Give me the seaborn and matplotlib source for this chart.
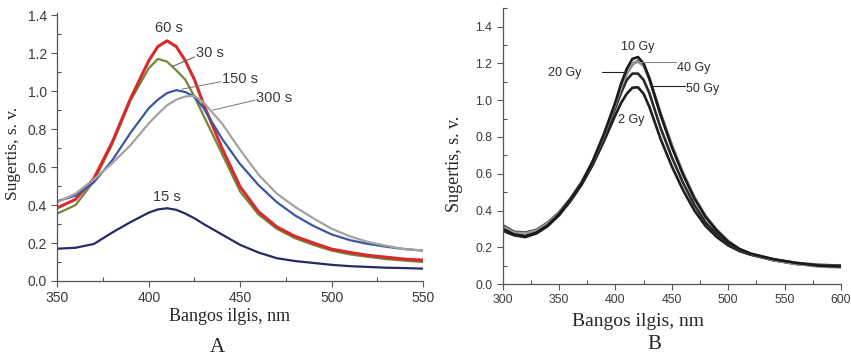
import numpy as np
import pandas as pd
import seaborn as sns
import matplotlib.pyplot as plt
from matplotlib.ticker import MultipleLocator

# %% Datos.

# Panel A: sugertis pagal bangos ilgi, skirtingas apšvitos laikas
bangos_a = [350, 360, 370, 380, 390, 400, 405, 410, 415, 420, 425, 430,
            440, 450, 460, 470, 480, 490, 500, 510, 520, 530, 540, 550]
s15 = [0.17, 0.175, 0.195, 0.255, 0.31, 0.36, 0.377, 0.383, 0.375, 0.355, 0.33, 0.30,
       0.245, 0.19, 0.15, 0.12, 0.105, 0.095, 0.085, 0.078, 0.074, 0.07, 0.068, 0.065]
s30 = [0.355, 0.40, 0.525, 0.72, 0.95, 1.12, 1.17, 1.155, 1.11, 1.06, 0.97, 0.87,
       0.67, 0.47, 0.35, 0.275, 0.225, 0.19, 0.16, 0.14, 0.127, 0.115, 0.107, 0.10]
s60 = [0.385, 0.43, 0.54, 0.73, 0.96, 1.16, 1.235, 1.265, 1.235, 1.16, 1.06, 0.93,
       0.70, 0.495, 0.365, 0.285, 0.235, 0.20, 0.168, 0.15, 0.135, 0.125, 0.115, 0.11]
s150 = [0.42, 0.45, 0.52, 0.635, 0.78, 0.91, 0.955, 0.99, 1.005, 0.995, 0.97, 0.91,
        0.75, 0.615, 0.505, 0.415, 0.345, 0.29, 0.245, 0.215, 0.195, 0.18, 0.168, 0.16]
s300 = [0.415, 0.46, 0.535, 0.62, 0.715, 0.83, 0.88, 0.925, 0.955, 0.972, 0.975, 0.94,
        0.83, 0.69, 0.56, 0.46, 0.39, 0.33, 0.275, 0.235, 0.205, 0.185, 0.168, 0.16]
serijos_a = ['15 s', '30 s', '60 s', '150 s', '300 s']

# Panel B: sugertis pagal bangos ilgi, skirtinga dozė
bangos_b = [300, 310, 320, 330, 340, 350, 360, 370, 380, 390, 400, 405, 410, 415, 420,
            425, 430, 440, 450, 460, 470, 480, 490, 500, 510, 520, 540, 560, 580, 600]
gy2 = [0.30, 0.27, 0.26, 0.28, 0.32, 0.375, 0.45, 0.54, 0.65, 0.78, 0.92, 0.985, 1.035, 1.068, 1.07,
       1.035, 0.965, 0.79, 0.64, 0.51, 0.40, 0.315, 0.255, 0.21, 0.18, 0.16, 0.13, 0.11, 0.10, 0.10]
gy10 = [0.30, 0.27, 0.26, 0.28, 0.32, 0.38, 0.46, 0.55, 0.67, 0.82, 0.99, 1.09, 1.17, 1.225, 1.235,
        1.20, 1.12, 0.92, 0.745, 0.595, 0.465, 0.365, 0.29, 0.23, 0.19, 0.165, 0.135, 0.115, 0.10, 0.095]
gy20 = [0.29, 0.265, 0.255, 0.275, 0.315, 0.375, 0.455, 0.545, 0.66, 0.80, 0.96, 1.04, 1.11, 1.145, 1.145,
        1.11, 1.04, 0.85, 0.69, 0.55, 0.43, 0.335, 0.27, 0.215, 0.18, 0.16, 0.13, 0.11, 0.10, 0.095]
gy40 = [0.31, 0.28, 0.275, 0.29, 0.33, 0.385, 0.46, 0.555, 0.67, 0.815, 0.98, 1.07, 1.15, 1.20, 1.21,
        1.185, 1.115, 0.925, 0.755, 0.605, 0.475, 0.37, 0.295, 0.235, 0.19, 0.165, 0.13, 0.11, 0.095, 0.09]
gy50 = [0.32, 0.285, 0.28, 0.295, 0.335, 0.39, 0.465, 0.555, 0.665, 0.81, 0.975, 1.065, 1.145, 1.195, 1.215,
        1.19, 1.12, 0.93, 0.755, 0.60, 0.47, 0.365, 0.29, 0.23, 0.19, 0.165, 0.135, 0.115, 0.105, 0.10]
serijos_b = ['2 Gy', '20 Gy', '50 Gy', '40 Gy', '10 Gy']

# %% Tablas largas para seaborn.
df_a = pd.DataFrame({'bangos': bangos_a * 5,
                     'sugertis': s15 + s30 + s60 + s150 + s300,
                     'serija': np.repeat(serijos_a, len(bangos_a))})
df_b = pd.DataFrame({'bangos': bangos_b * 5,
                     'sugertis': gy2 + gy20 + gy50 + gy40 + gy10,
                     'serija': np.repeat(serijos_b, len(bangos_b))})

spalvos_a = {'15 s': '#262a66', '30 s': '#71883a', '60 s': '#d82a2c',
             '150 s': '#3d56a2', '300 s': '#a3a3a3'}
storis_a = {'15 s': 1.6, '30 s': 1.6, '60 s': 2.2, '150 s': 1.6, '300 s': 1.6}
spalvos_b = {'2 Gy': '#1e1e1e', '20 Gy': '#2a2a2a', '50 Gy': '#4a4a4a',
             '40 Gy': '#9a9a9a', '10 Gy': '#1a1a1a'}

sns.set_style('ticks')
plt.rcParams['font.family'] = ['Liberation Sans', 'DejaVu Sans']

fig = plt.figure(figsize=(8.51, 3.56), dpi=100)
ax_a = fig.add_axes([0.0673, 0.2107, 0.430, 0.752])
ax_b = fig.add_axes([0.5907, 0.2022, 0.3975, 0.7744])

for serija in serijos_a:
    sns.lineplot(data=df_a[df_a['serija'] == serija], x='bangos', y='sugertis',
                 color=spalvos_a[serija], lw=storis_a[serija], ax=ax_a)
for serija in serijos_b:
    sns.lineplot(data=df_b[df_b['serija'] == serija], x='bangos', y='sugertis',
                 color=spalvos_b[serija], lw=1.9, ax=ax_b)


def formatuoti(ax, xlim, ylim, xmaj, tick_size):
    ax.set_xlim(*xlim)
    ax.set_ylim(*ylim)
    ax.xaxis.set_major_locator(MultipleLocator(xmaj))
    ax.xaxis.set_minor_locator(MultipleLocator(xmaj / 2))
    ax.yaxis.set_major_locator(MultipleLocator(0.2))
    ax.yaxis.set_minor_locator(MultipleLocator(0.1))
    ax.yaxis.set_major_formatter(plt.FormatStrFormatter('%.1f'))
    ax.tick_params(which='major', direction='out', length=4, width=0.8,
                   color='#555555', labelsize=tick_size, labelcolor='#3a3a3a')
    ax.tick_params(which='minor', direction='in', length=3, width=0.8, color='#555555')
    sns.despine(ax=ax)
    for s in ['left', 'bottom']:
        ax.spines[s].set_color('#555555')
        ax.spines[s].set_linewidth(0.9)


formatuoti(ax_a, (350, 550), (0, 1.41), 50, 10)
formatuoti(ax_b, (300, 600), (0, 1.5), 50, 8.8)
ax_a.set_yticks(np.arange(0, 1.41, 0.2))
ax_b.set_yticks(np.arange(0, 1.41, 0.2))

serif = ['Liberation Serif', 'DejaVu Serif']
ax_a.set_xlabel('Bangos ilgis, nm', family=serif, fontsize=13)
ax_a.set_ylabel('Sugertis, s. v.', family=serif, fontsize=12.5)
ax_a.xaxis.set_label_coords(0.47, -0.10)
ax_a.yaxis.set_label_coords(-0.10, 0.478)
ax_b.set_xlabel('Bangos ilgis, nm', family=serif, fontsize=14)
ax_b.set_ylabel('Sugertis, s. v.', family=serif, fontsize=13)
ax_b.xaxis.set_label_coords(0.40, -0.105)
ax_b.yaxis.set_label_coords(-0.118, 0.434)

# Etiquetas de las curvas, panel A.
txt = dict(fontsize=10.5, color='#3a3a3a')
ax_a.text(411, 1.335, '60 s', ha='center', va='center', **txt)
ax_a.text(426, 1.20, '30 s', ha='left', va='center', **txt)
ax_a.text(440, 1.063, '150 s', ha='left', va='center', **txt)
ax_a.text(458.5, 0.966, '300 s', ha='left', va='center', **txt)
ax_a.text(409.7, 0.44, '15 s', ha='center', va='center', **txt)
ax_a.plot([413, 425], [1.13, 1.18], color='#555555', lw=0.7)
ax_a.plot([418, 439.5], [1.01, 1.05], color='#777777', lw=0.7)
ax_a.plot([435, 458], [0.90, 0.952], color='#777777', lw=0.7)

# Etiquetas de las curvas, panel B.
txt_b = dict(fontsize=9, color='#2a2a2a')
ax_b.text(419.4, 1.288, '10 Gy', ha='center', va='center', **txt_b)
ax_b.text(455, 1.177, '40 Gy', ha='left', va='center', **txt_b)
ax_b.text(340, 1.15, '20 Gy', ha='left', va='center', **txt_b)
ax_b.text(463, 1.059, '50 Gy', ha='left', va='center', **txt_b)
ax_b.text(413.6, 0.892, '2 Gy', ha='center', va='center', **txt_b)
ax_b.plot([413.6, 453.3], [1.206, 1.206], color='#888888', lw=0.8)
ax_b.plot([388, 409.2], [1.155, 1.155], color='#222222', lw=0.8)
ax_b.plot([431.2, 462], [1.077, 1.077], color='#222222', lw=0.8)

fig.text(0.256, 0.0225, 'A', ha='center', va='center', family=serif, fontsize=15)
fig.text(0.7685, 0.031, 'B', ha='center', va='center', family=serif, fontsize=15)

fig.savefig('out.png', dpi=100)
